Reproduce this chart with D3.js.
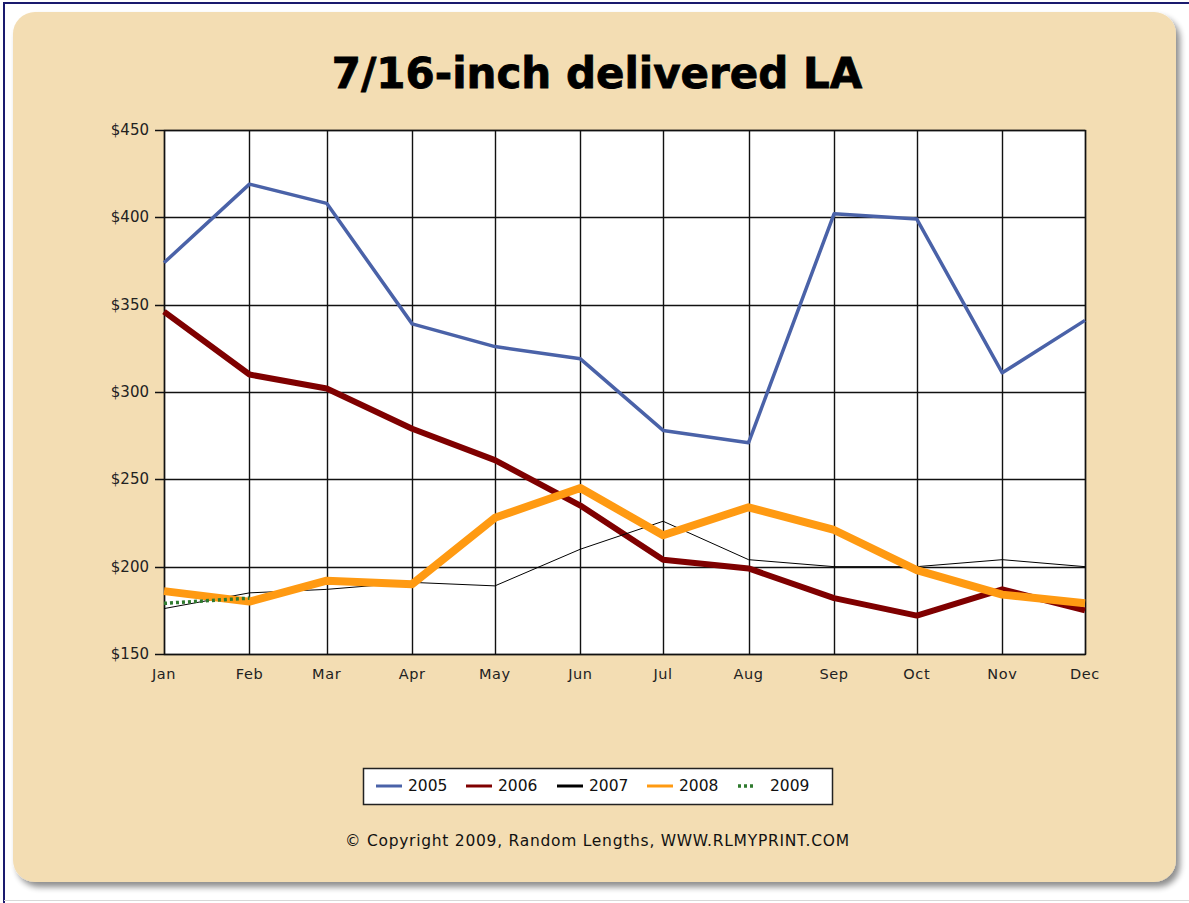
<!DOCTYPE html>
<html><head><meta charset="utf-8">
<script src="https://cdn.jsdelivr.net/npm/d3@7"></script>
<style>
html,body{margin:0;padding:0;background:#fff;}
svg{display:block;}
</style></head>
<body>
<svg id="c" width="1189" height="903"></svg>
<script>
const months = ["Jan","Feb","Mar","Apr","May","Jun","Jul","Aug","Sep","Oct","Nov","Dec"];
const yTicks = [150,200,250,300,350,400,450];
const seriesNames = ["2005","2006","2007","2008","2009"];
const v2005 = [374,419,408,339,326,319,278,271,402,399,311,341];
const v2006 = [346,310,302,279,261,235,204,199,182,172,187,175];
const v2007 = [176,185,187,191,189,210,226,204,200,200,204,200];
const v2008 = [186,180,192,190,228,245,218,234,221,198,184,179];
const v2009 = [179,182];

const svg = d3.select("#c");
const W = 1189, H = 903;

svg.append("rect").attr("x",0).attr("y",0).attr("width",W).attr("height",H).attr("fill","#fff");
svg.append("line").attr("x1",3).attr("x2",W).attr("y1",3).attr("y2",3).attr("stroke","#1a1a6e").attr("stroke-width",2);
svg.append("line").attr("x1",4).attr("x2",4).attr("y1",3).attr("y2",H).attr("stroke","#1a1a6e").attr("stroke-width",2);
svg.append("line").attr("x1",4).attr("x2",W).attr("y1",900.5).attr("y2",900.5).attr("stroke","#d8d8d8").attr("stroke-width",1);

const defs = svg.append("defs");
const f = defs.append("filter").attr("id","sh").attr("x","-5%").attr("y","-5%").attr("width","110%").attr("height","110%");
f.append("feGaussianBlur").attr("in","SourceAlpha").attr("stdDeviation",3).attr("result","b");
f.append("feOffset").attr("in","b").attr("dx",4).attr("dy",5).attr("result","o");
f.append("feComponentTransfer").attr("in","o").attr("result","oc")
  .append("feFuncA").attr("type","linear").attr("slope",0.45);
const m = f.append("feMerge");
m.append("feMergeNode").attr("in","oc");
m.append("feMergeNode").attr("in","SourceGraphic");

svg.append("rect").attr("x",13).attr("y",12).attr("width",1163).attr("height",870)
  .attr("rx",22).attr("ry",22).attr("fill","#f3ddb3").attr("filter","url(#sh)");

const title = svg.append("text").attr("x",597).attr("y",88).attr("text-anchor","middle")
  .attr("font-family","'DejaVu Sans',Verdana,sans-serif").attr("font-weight","bold")
  .attr("font-size",42).attr("fill","#000").attr("stroke","#000").attr("stroke-width",0.8)
  .text("7/16-inch delivered LA");
const tl = title.node().getComputedTextLength();
if (Math.abs(tl-532) > 4) title.attr("textLength",532).attr("lengthAdjust","spacingAndGlyphs");

const x0 = 164, x1 = 1085, y0 = 130, y1 = 654;
const dates = months.map((mm,i)=>new Date(Date.UTC(2005,i,1)));
const x = d3.scaleUtc().domain([dates[0], dates[11]]).range([x0,x1]);
const y = d3.scaleLinear().domain([150,450]).range([y1,y0]);

svg.append("rect").attr("x",x0).attr("y",y0).attr("width",x1-x0).attr("height",y1-y0).attr("fill","#fff");

const font = "'DejaVu Sans',Verdana,sans-serif";
const g = svg.append("g");
g.selectAll(".hg").data(yTicks).join("line")
  .attr("x1",x0-9).attr("x2",x1).attr("y1",d=>Math.round(y(d))+0.5).attr("y2",d=>Math.round(y(d))+0.5)
  .attr("stroke","#111").attr("stroke-width",1.4);
g.selectAll(".vg").data(dates).join("line")
  .attr("x1",d=>Math.round(x(d))+0.5).attr("x2",d=>Math.round(x(d))+0.5).attr("y1",y0).attr("y2",y1)
  .attr("stroke","#111").attr("stroke-width",1.4);
svg.append("rect").attr("x",x0+0.5).attr("y",y0+0.5).attr("width",x1-x0).attr("height",y1-y0)
  .attr("fill","none").attr("stroke","#111").attr("stroke-width",1.4);

svg.selectAll(".yl").data(yTicks).join("text")
  .attr("x",x0-15).attr("y",d=>y(d)+5).attr("text-anchor","end")
  .attr("font-family",font).attr("font-size",15).attr("fill","#222")
  .text(d=>"$"+d);
svg.selectAll(".xl").data(dates).join("text")
  .attr("x",d=>x(d)).attr("y",679).attr("text-anchor","middle")
  .attr("font-family",font).attr("font-size",14.5).attr("letter-spacing",0.6).attr("fill","#222")
  .text((d,i)=>months[i]);

const line = d3.line().x((d,i)=>x(dates[i])).y(d=>y(d));
const styles = [
  {vals:v2005, color:"#4a62a8", w:3.5, dash:null},
  {vals:v2006, color:"#7f0000", w:6, dash:null},
  {vals:v2007, color:"#000000", w:1, dash:null},
  {vals:v2008, color:"#ff9a12", w:8, dash:null},
  {vals:v2009, color:"#2e7a2e", w:3.5, dash:"3,3"}
];
const lg = svg.append("g");
styles.forEach(s=>{
  lg.append("path").datum(s.vals).attr("d",line).attr("fill","none")
    .attr("stroke",s.color).attr("stroke-width",s.w).attr("stroke-linejoin","round")
    .attr("stroke-dasharray",s.dash);
});

svg.append("rect").attr("x",363.5).attr("y",768.5).attr("width",469).attr("height",36)
  .attr("fill","#fff").attr("stroke","#222").attr("stroke-width",1.5);
const lx = [376,466,557,647,738];
const leg = svg.append("g");
seriesNames.forEach((nm,i)=>{
  const s = styles[i];
  leg.append("line").attr("x1",lx[i]).attr("x2",lx[i]+(i===4?16:26)).attr("y1",786).attr("y2",786)
    .attr("stroke",s.color).attr("stroke-width",i===4?3.5:3).attr("stroke-dasharray",s.dash);
  leg.append("text").attr("x",lx[i]+32).attr("y",791)
    .attr("font-family",font).attr("font-size",15.5).attr("fill","#111").text(nm);
});

const cp = svg.append("text").attr("x",597).attr("y",846).attr("text-anchor","middle")
  .attr("font-family",font).attr("font-size",15.5).attr("fill","#111")
  .text("© Copyright 2009, Random Lengths, WWW.RLMYPRINT.COM");
cp.attr("textLength",504).attr("lengthAdjust","spacing");
</script>
</body></html>
